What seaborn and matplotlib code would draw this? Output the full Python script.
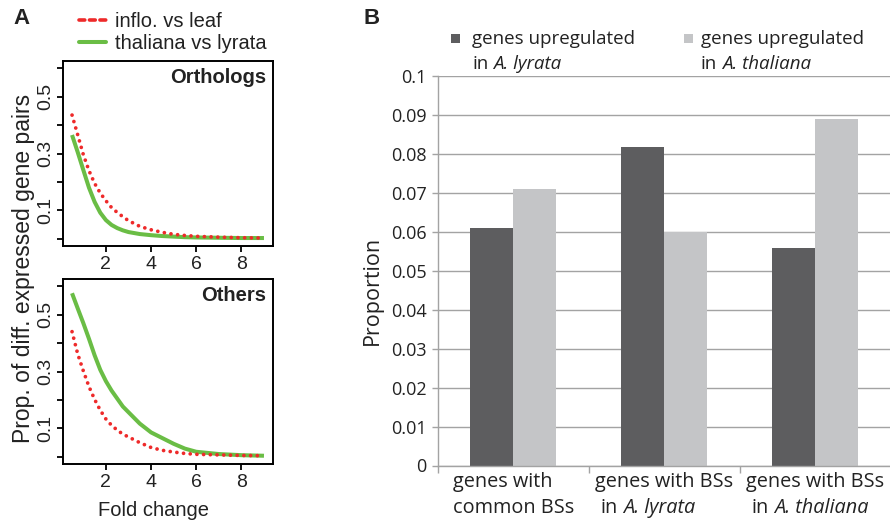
import matplotlib
matplotlib.use("Agg")
import matplotlib.pyplot as plt
from matplotlib.lines import Line2D
from matplotlib.patches import Rectangle
from matplotlib.transforms import IdentityTransform
import pandas as pd
import seaborn as sns

# ---------------- data: panel A ----------------
fold_change = [0.5, 0.75, 1.0, 1.25, 1.5, 1.75, 2.0, 2.25, 2.5, 2.75, 3.0,
               3.5, 4.0, 4.5, 5.0, 5.5, 6.0, 7.0, 8.0, 9.0]
ortho_inflo_leaf = [0.435, 0.366, 0.296, 0.240, 0.195, 0.161, 0.134, 0.110, 0.093, 0.078, 0.064,
                    0.044, 0.032, 0.023, 0.016, 0.012, 0.009, 0.006, 0.004, 0.003]
ortho_thal_lyr = [0.365, 0.305, 0.242, 0.180, 0.130, 0.092, 0.066, 0.049, 0.038, 0.030, 0.024,
                  0.017, 0.013, 0.010, 0.008, 0.006, 0.005, 0.004, 0.003, 0.003]
others_inflo_leaf = [0.440, 0.362, 0.302, 0.247, 0.202, 0.164, 0.133, 0.111, 0.094, 0.080, 0.070,
                     0.050, 0.033, 0.023, 0.017, 0.012, 0.009, 0.007, 0.005, 0.004]
others_thal_lyr = [0.575, 0.522, 0.470, 0.415, 0.357, 0.306, 0.266, 0.233, 0.205, 0.177, 0.157,
                   0.117, 0.086, 0.066, 0.046, 0.029, 0.018, 0.010, 0.006, 0.004]
series_names = ["inflo. vs leaf", "thaliana vs lyrata"]
panel_titles = ["Orthologs", "Others"]
a_yticks = [0.0, 0.1, 0.2, 0.3, 0.4, 0.5, 0.6]
a_ytick_labels = ["", "0.1", "", "0.3", "", "0.5", ""]
a_xticks = [2, 4, 6, 8]

# ---------------- data: panel B ----------------
categories = ["common", "lyrata", "thaliana"]
# (first line, second-line prefix, second-line italic part)
category_labels = [("genes with", "common BSs", ""),
                   ("genes with BSs", " in", "A. lyrata"),
                   ("genes with BSs", " in", "A. thaliana")]
groups = ["up_lyrata", "up_thaliana"]
group_labels = [("genes upregulated", "in", "A. lyrata"),
                ("genes upregulated", "in", "A. thaliana")]
up_lyrata = [0.061, 0.082, 0.056]
up_thaliana = [0.071, 0.060, 0.089]
b_yticks = [0, 0.01, 0.02, 0.03, 0.04, 0.05, 0.06, 0.07, 0.08, 0.09, 0.1]
b_ytick_labels = ["0", "0.01", "0.02", "0.03", "0.04", "0.05", "0.06", "0.07", "0.08", "0.09", "0.1"]

RED = "#ee2a2a"
GREEN = "#6abd45"
DARK = "#5d5d5f"
LIGHT = "#c4c5c7"
GRAY = "#a3a3a3"
TXT = "#222222"
BFONT = "Open Sans"

sns.set_theme(style="white")
plt.rcParams["font.family"] = ["Liberation Sans", "DejaVu Sans"]
plt.rcParams["lines.dash_capstyle"] = "round"

W, H = 890, 523
fig = plt.figure(figsize=(W / 100, H / 100), dpi=100)
renderer = fig.canvas.get_renderer()


def fx(px):
    return px / W


def fy(py):
    return 1 - py / H


def ptext(px, py, s, **kw):
    """Text placed in pixel coordinates measured from the top-left corner."""
    return fig.text(px, H - py, s, transform=IdentityTransform(), **kw)


def text_width(s, **kw):
    t = fig.text(0, 0, s, **kw)
    w = t.get_window_extent(renderer).width
    t.remove()
    return w


axA1 = fig.add_axes([fx(63), fy(246), fx(210), 185 / H])
axA2 = fig.add_axes([fx(63), fy(464), fx(210), 185 / H])

panel_data = [(ortho_inflo_leaf, ortho_thal_lyr), (others_inflo_leaf, others_thal_lyr)]
for ax, (inflo, thal), title in zip([axA1, axA2], panel_data, panel_titles):
    sns.lineplot(x=fold_change, y=thal, color=GREEN, linewidth=2.9, ax=ax,
                 solid_capstyle="butt")
    sns.lineplot(x=fold_change, y=inflo, color=RED, linewidth=2.7, ax=ax,
                 linestyle=(0, (0.01, 1.78)))
    ax.set_xlim(0.1, 9.4)
    ax.set_ylim(-0.025, 0.625)
    ax.set_yticks(a_yticks)
    ax.set_yticklabels(a_ytick_labels)
    ax.set_xticks(a_xticks)
    ax.set_xticklabels([str(t) for t in a_xticks])
    ax.tick_params(axis="both", direction="out", length=4, width=1.3, color="black",
                   labelsize=14, pad=3, labelcolor=TXT, left=True, bottom=True)
    ax.tick_params(axis="y", pad=2)
    for lab in ax.get_yticklabels():
        lab.set_rotation(90)
        lab.set_va("center")
    for sp in ax.spines.values():
        sp.set_visible(True)
        sp.set_color("black")
        sp.set_linewidth(1.4)
    ax.set_xlabel("")
    ax.set_ylabel("")
    ax.text(0.967, 0.91, title, transform=ax.transAxes, ha="right", va="center",
            fontsize=14.5, fontweight="bold", color=TXT)

fig.text(fx(24), fy(268), "Prop. of diff. expressed gene pairs", rotation=90,
         ha="center", va="center", fontsize=16.5, color=TXT)
fig.text(fx(154), fy(511), "Fold change", ha="center", va="center", fontsize=14.5,
         color=TXT)
fig.text(fx(21), fy(19), "A", ha="center", va="center", fontsize=16, fontweight="bold",
         color=TXT)

handles = [Line2D([], [], color=RED, linewidth=2.6, linestyle=(0, (1.6, 1.3))),
           Line2D([], [], color=GREEN, linewidth=2.9)]
fig.legend(handles=handles, labels=series_names, loc="upper left",
           bbox_to_anchor=(fx(79), fy(12)), frameon=False, fontsize=14.5,
           handlelength=1.35, handletextpad=0.45, labelspacing=0.15,
           borderpad=0, borderaxespad=0, labelcolor=TXT)

# ---------------- panel B ----------------
axB = fig.add_axes([fx(437.7), fy(465.5), fx(453), 389 / H])
dfb = pd.DataFrame({
    "category": categories * 2,
    "proportion": up_lyrata + up_thaliana,
    "group": [groups[0]] * 3 + [groups[1]] * 3,
})
axB.set_axisbelow(True)
axB.yaxis.grid(True, color=GRAY, linewidth=1.0)
sns.barplot(data=dfb, x="category", y="proportion", hue="group", order=categories,
            hue_order=groups, palette={groups[0]: DARK, groups[1]: LIGHT},
            width=0.57, saturation=1, errorbar=None, legend=False, linewidth=0, ax=axB)
axB.set_xlim(-0.5, 2.5)
axB.set_ylim(0, 0.1)
axB.set_yticks(b_yticks)
axB.set_yticklabels(b_ytick_labels, fontfamily=BFONT)
axB.set_xticks([0, 1, 2])
axB.set_xticklabels(["", "", ""])
axB.set_xticks([-0.5, 0.5, 1.5], minor=True)
axB.tick_params(axis="y", direction="out", length=4, width=1, color=GRAY, left=True,
                labelsize=13, pad=4, labelcolor=TXT)
axB.tick_params(axis="x", which="major", length=0)
axB.tick_params(axis="x", which="minor", direction="out", length=5, width=1,
                color=GRAY, bottom=True)
for side in ["top", "right"]:
    axB.spines[side].set_visible(False)
for side in ["left", "bottom"]:
    axB.spines[side].set_color(GRAY)
    axB.spines[side].set_linewidth(1.0)
axB.set_xlabel("")
axB.set_ylabel("")

fig.text(fx(372), fy(290), "Proportion", rotation=90, ha="center", va="center",
         fontsize=15.5, fontfamily=BFONT, color=TXT)
fig.text(fx(372), fy(19), "B", ha="center", va="center", fontsize=16, fontweight="bold",
         color=TXT)

# category labels (two lines, left aligned, block centred on the category)
CAT_FS = 14.3
reg = dict(fontsize=CAT_FS, fontfamily=BFONT, color=TXT)
ita = dict(fontsize=CAT_FS, fontfamily=BFONT, color=TXT, fontstyle="italic")
space_w = text_width("a a", **reg) - text_width("aa", **reg)
for i, (l1, pre, it) in enumerate(category_labels):
    cx_disp = axB.transData.transform((i, 0))[0]
    w1 = text_width(l1, **reg)
    pre_lead = space_w if pre.startswith(" ") else 0.0
    pre_s = pre.strip()
    w2 = pre_lead + text_width(pre_s, **reg)
    if it:
        w2 += space_w + text_width(it, **ita)
    block = max(w1, w2)
    left = cx_disp - block / 2
    ptext(left, 487, l1, ha="left", va="baseline", **reg)
    t = ptext(left + pre_lead, 513, pre_s, ha="left", va="baseline", **reg)
    if it:
        x_it = t.get_window_extent(renderer).x1 + space_w
        fig.text(x_it, H - 513, it, transform=IdentityTransform(), ha="left",
                 va="baseline", **ita)

# legend for panel B
LEG_FS = 13.5
lreg = dict(fontsize=LEG_FS, fontfamily=BFONT, color=TXT)
lita = dict(fontsize=LEG_FS, fontfamily=BFONT, color=TXT, fontstyle="italic")
lspace = text_width("a a", **lreg) - text_width("aa", **lreg)
for (sq_x, txt_x), color, (l1, pre, it) in zip([(451, 472), (684, 701)], [DARK, LIGHT],
                                               group_labels):
    fig.patches.append(Rectangle((fx(sq_x), fy(43)), fx(9), 9 / H, transform=fig.transFigure,
                                 facecolor=color, edgecolor="none"))
    ptext(txt_x, 44, l1, ha="left", va="baseline", **lreg)
    t = ptext(txt_x, 69, pre, ha="left", va="baseline", **lreg)
    x_it = t.get_window_extent(renderer).x1 + lspace
    fig.text(x_it, H - 69, it, transform=IdentityTransform(), ha="left", va="baseline",
             **lita)

fig.savefig("out.png", dpi=100, facecolor="white")
